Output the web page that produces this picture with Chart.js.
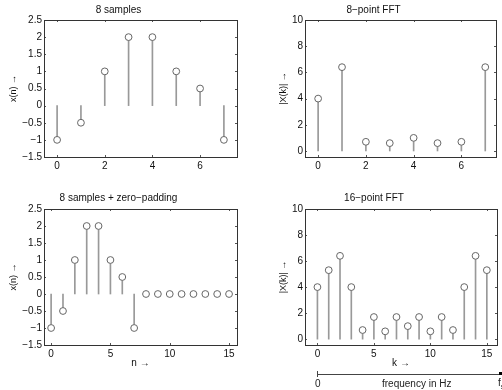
<!DOCTYPE html>
<html>
<head>
<meta charset="utf-8">
<script src="https://cdn.jsdelivr.net/npm/chart.js@4.4.1/dist/chart.umd.min.js"></script>
<style>
html, body { margin: 0; padding: 0; background: #fff; }
#page { position: relative; width: 502px; height: 390px; overflow: hidden;
        font-family: "Liberation Sans", Arial, sans-serif; color: #222; }
#page canvas { position: absolute; }
.fq { position: absolute; font-size: 10px; line-height: 12px; white-space: nowrap; }
</style>
</head>
<body>
<div id="page">
  <canvas id="c1" width="251" height="190" style="left:0;top:0"></canvas>
  <canvas id="c2" width="251" height="190" style="left:251px;top:0"></canvas>
  <canvas id="c3" width="251" height="200" style="left:0;top:190px"></canvas>
  <canvas id="c4" width="251" height="200" style="left:251px;top:190px"></canvas>

  <!-- frequency axis under the 16-point FFT -->
  <div style="position:absolute;left:317px;top:374px;width:183px;border-top:1px solid #444"></div>
  <div style="position:absolute;left:317px;top:371px;height:6px;border-left:1px solid #444"></div>
  <div style="position:absolute;left:499px;top:372px;width:3px;height:3px;background:#000"></div>
  <div class="fq" style="left:315px;top:378px">0</div>
  <div class="fq" style="left:382px;top:378px">frequency in Hz</div>
  <div class="fq" style="left:498px;top:377px">f<sub style="font-size:7px">s</sub></div>
</div>

<script>
// time samples
const nSamples = [0, 1, 2, 3, 4, 5, 6, 7];
const xSamples = [-1, -0.5, 1, 2, 2, 1, 0.5, -1];

// 8-point FFT magnitude
const k8 = [0, 1, 2, 3, 4, 5, 6, 7];
const mag8 = [4.0, 6.4, 0.7, 0.6, 1.0, 0.6, 0.7, 6.4];

// zero padded samples
const nPadded = [0, 1, 2, 3, 4, 5, 6, 7, 8, 9, 10, 11, 12, 13, 14, 15];
const xPadded = [-1, -0.5, 1, 2, 2, 1, 0.5, -1, 0, 0, 0, 0, 0, 0, 0, 0];

// 16-point FFT magnitude
const k16 = [0, 1, 2, 3, 4, 5, 6, 7, 8, 9, 10, 11, 12, 13, 14, 15];
const mag16 = [4.0, 5.3, 6.4, 4.0, 0.7, 1.7, 0.6, 1.7, 1.0, 1.7, 0.6, 1.7, 0.7, 4.0, 6.4, 5.3];

// tick labels
const sampleTicks = [-1.5, -1, -0.5, 0, 0.5, 1, 1.5, 2, 2.5];
const magTicks = [0, 2, 4, 6, 8, 10];
const ticks8 = [0, 2, 4, 6];
const ticks16 = [0, 5, 10, 15];

const FONT = '"Liberation Sans", Arial, sans-serif';

// matlab style box with ticks pointing inwards
const boxPlugin = {
  id: 'box',
  afterDatasetsDraw(chart) {
    const { ctx, chartArea: a, scales } = chart;
    ctx.save();
    ctx.strokeStyle = '#555';
    ctx.lineWidth = 1;
    ctx.beginPath();
    scales.x.ticks.forEach(t => {
      const px = Math.round(scales.x.getPixelForValue(t.value)) + 0.5;
      ctx.moveTo(px, a.bottom); ctx.lineTo(px, a.bottom - 2);
      ctx.moveTo(px, a.top); ctx.lineTo(px, a.top + 2);
    });
    scales.y.ticks.forEach(t => {
      const py = Math.round(scales.y.getPixelForValue(t.value)) + 0.5;
      ctx.moveTo(a.left, py); ctx.lineTo(a.left + 2, py);
      ctx.moveTo(a.right, py); ctx.lineTo(a.right - 2, py);
    });
    ctx.stroke();
    ctx.strokeStyle = '#333';
    ctx.strokeRect(Math.round(a.left) + 0.5, Math.round(a.top) + 0.5,
                   Math.round(a.right - a.left), Math.round(a.bottom - a.top));
    ctx.restore();
  }
};

const fmt = v => String(v).replace('-', '\u2212');

function stemChart(id, cfg) {
  const pts = cfg.xs.map((x, i) => ({ x: x, y: cfg.ys[i] }));
  return new Chart(document.getElementById(id), {
    type: 'scatter',
    data: {
      datasets: [
        { type: 'scatter', data: pts, order: 0,
          pointStyle: 'circle', pointRadius: 3.4, borderWidth: 1,
          borderColor: '#666', backgroundColor: '#fff' },
        { type: 'bar', data: pts, order: 1,
          barThickness: 1, backgroundColor: '#999', borderWidth: 0 }
      ]
    },
    options: {
      responsive: false,
      animation: false,
      events: [],
      layout: { padding: cfg.pad },
      plugins: {
        legend: { display: false },
        tooltip: { enabled: false },
        title: { display: true, text: cfg.title, color: '#111',
                 font: { family: FONT, size: 10, weight: 'normal' },
                 padding: cfg.titlePad }
      },
      scales: {
        x: {
          type: 'linear', min: cfg.xRange[0], max: cfg.xRange[1], offset: false,
          grid: { display: false, drawTicks: false }, border: { display: false },
          afterBuildTicks: s => { s.ticks = cfg.xTicks.map(v => ({ value: v })); },
          afterFit: s => { s.height = cfg.xH; },
          ticks: { padding: 3, color: '#111', font: { family: FONT, size: 10 },
                   callback: fmt, maxRotation: 0 },
          title: cfg.xLabel ? { display: true, text: cfg.xLabel, color: '#111',
                   font: { family: FONT, size: 10 }, padding: { top: 0, bottom: 8 } }
                 : { display: false }
        },
        y: {
          min: cfg.yRange[0], max: cfg.yRange[1],
          grid: { display: false, drawTicks: false }, border: { display: false },
          afterBuildTicks: s => { s.ticks = cfg.yTicks.map(v => ({ value: v })); },
          afterFit: s => { s.width = cfg.yW; },
          ticks: { padding: 2, color: '#111', font: { family: FONT, size: 10 },
                   callback: fmt },
          title: { display: true, text: cfg.yLabel, color: '#111',
                   font: { family: FONT, size: 9 }, padding: { top: cfg.yTitleOff, bottom: 0 } }
        }
      }
    },
    plugins: [boxPlugin]
  });
}

stemChart('c1', {
  title: '8 samples', xs: nSamples, ys: xSamples,
  xRange: [-0.55, 7.55], yRange: [-1.5, 2.5], xTicks: ticks8, yTicks: sampleTicks,
  yLabel: 'x(n) \u2192', yW: 44, yTitleOff: 8, xH: 20,
  pad: { left: 0, top: 0, right: 14, bottom: 13 }, titlePad: { top: 4, bottom: 4 }
});

stemChart('c2', {
  title: '8\u2212point FFT', xs: k8, ys: mag8,
  xRange: [-0.55, 7.45], yRange: [-0.46, 10], xTicks: ticks8, yTicks: magTicks,
  yLabel: '|X(k)| \u2192', yW: 54, yTitleOff: 27, xH: 20,
  pad: { left: 0, top: 0, right: 6, bottom: 13 }, titlePad: { top: 4, bottom: 4 }
});

stemChart('c3', {
  title: '8 samples + zero\u2212padding', xs: nPadded, ys: xPadded,
  xRange: [-0.6, 15.67], yRange: [-1.5, 2.5], xTicks: ticks16, yTicks: sampleTicks,
  yLabel: 'x(n) \u2192', xLabel: 'n \u2192', yW: 44, yTitleOff: 8, xH: 32,
  pad: { left: 0, top: 0, right: 14, bottom: 13 }, titlePad: { top: 2, bottom: 5 }
});

stemChart('c4', {
  title: '16\u2212point FFT', xs: k16, ys: mag16,
  xRange: [-1.1, 15.9], yRange: [-0.45, 10], xTicks: ticks16, yTicks: magTicks,
  yLabel: '|X(k)| \u2192', xLabel: 'k \u2192', yW: 54, yTitleOff: 27, xH: 32,
  pad: { left: 0, top: 0, right: 5, bottom: 13 }, titlePad: { top: 2, bottom: 5 }
});
</script>
</body>
</html>
